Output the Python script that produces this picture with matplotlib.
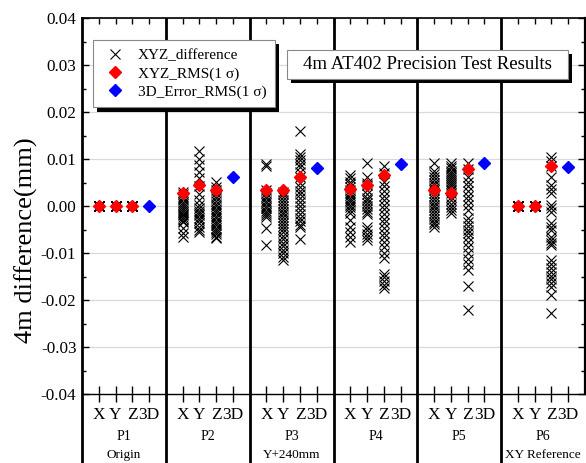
import matplotlib
matplotlib.use('Agg')
import matplotlib.pyplot as plt
import matplotlib.patheffects as pe
from matplotlib.patches import Rectangle
from matplotlib.ticker import FixedLocator
import numpy as np

plt.rcParams['font.family'] = ['Liberation Serif', 'DejaVu Serif']

# ---------------- data ----------------
points = ['P1', 'P2', 'P3', 'P4', 'P5', 'P6']
point_notes = ['Origin', '', 'Y+240mm', '', '', 'XY Reference']
components = ['X', 'Y', 'Z', '3D']

p1_x = [0.0, 0.0, 0.0, 0.0, 0.0, 0.0, 0.0, 0.0, 0.0, 0.0]
p1_y = [0.0, 0.0, 0.0, 0.0, 0.0, 0.0, 0.0, 0.0, 0.0, 0.0]
p1_z = [0.0, 0.0, 0.0, 0.0, 0.0, 0.0, 0.0, 0.0, 0.0, 0.0]

p2_x = [0.0030, 0.0025, 0.0019, 0.0014, 0.0009, 0.0005, 0.0, -0.0004, -0.0009, -0.0012,
        -0.0016, -0.0020, -0.0023, -0.0027, -0.0031, -0.0034, -0.0047, -0.0058, -0.0067]
p2_y = [0.0116, 0.0101, 0.0087, 0.0073, 0.0059, 0.0043, 0.0026, 0.0013, 0.0002, -0.0004,
        -0.0010, -0.0015, -0.0020, -0.0025, -0.0030, -0.0036, -0.0044, -0.0050, -0.0055]
p2_z = [0.0052, 0.0041, 0.0033, 0.0027, 0.0022, 0.0016, 0.0011, 0.0005, 0.0, -0.0006,
        -0.0011, -0.0015, -0.0021, -0.0025, -0.0031, -0.0036, -0.0040, -0.0046, -0.0051,
        -0.0055, -0.0060, -0.0065, -0.0069]

p3_x = [0.0089, 0.0085, 0.0035, 0.0027, 0.0022, 0.0016, 0.0011, 0.0006, 0.0001, -0.0004,
        -0.0010, -0.0015, -0.0019, -0.0023, -0.0047, -0.0083]
p3_y = [0.0030, 0.0025, 0.0019, 0.0012, 0.0006, 0.0, -0.0006, -0.0013, -0.0018, -0.0024,
        -0.0030, -0.0037, -0.0042, -0.0048, -0.0055, -0.0063, -0.0070, -0.0078, -0.0086,
        -0.0094, -0.0101, -0.0108, -0.0115]
p3_z = [0.0160, 0.0110, 0.0104, 0.0098, 0.0090, 0.0082, 0.0072, 0.0062, 0.0049, 0.0040,
        0.0032, 0.0025, 0.0016, 0.0008, 0.0001, -0.0008, -0.0016, -0.0025, -0.0032,
        -0.0040, -0.0044, -0.0071]

p4_x = [0.0066, 0.0060, 0.0052, 0.0046, 0.0040, 0.0034, 0.0028, 0.0023, 0.0018, 0.0012,
        0.0008, 0.0003, -0.0002, -0.0008, -0.0015, -0.0030, -0.0044, -0.0055, -0.0065, -0.0076]
p4_y = [0.0092, 0.0062, 0.0050, 0.0044, 0.0035, 0.0025, 0.0018, 0.0012, 0.0006, 0.0,
        -0.0006, -0.0012, -0.0017, -0.0045, -0.0052, -0.0060, -0.0067, -0.0072]
p4_z = [0.0085, 0.0070, 0.0052, 0.0042, 0.0032, 0.0022, 0.0012, 0.0003, -0.0007, -0.0017,
        -0.0027, -0.0037, -0.0047, -0.0057, -0.0067, -0.0077, -0.0088, -0.0099, -0.0111,
        -0.0145, -0.0152, -0.0160, -0.0168, -0.0175]

p5_x = [0.0092, 0.0075, 0.0068, 0.0062, 0.0056, 0.0050, 0.0044, 0.0038, 0.0033, 0.0027,
        0.0021, 0.0015, 0.0009, 0.0003, -0.0003, -0.0009, -0.0015, -0.0021, -0.0027,
        -0.0033, -0.0038, -0.0044]
p5_y = [0.0092, 0.0086, 0.0080, 0.0075, 0.0070, 0.0066, 0.0062, 0.0058, 0.0054, 0.0050,
        0.0045, 0.0040, 0.0034, 0.0028, 0.0020, 0.0012, 0.0005, -0.0002, -0.0008, -0.0015]
p5_z = [0.0092, 0.0078, 0.0062, 0.0052, 0.0042, 0.0032, 0.0022, 0.0012, 0.0002, -0.0008,
        -0.0026, -0.0034, -0.0042, -0.0050, -0.0058, -0.0066, -0.0076, -0.0088, -0.0100,
        -0.0112, -0.0124, -0.0136, -0.0170, -0.0221]

p6_x = [0.0, 0.0, 0.0, 0.0, 0.0, 0.0, 0.0, 0.0, 0.0, 0.0]
p6_y = [0.0, 0.0, 0.0, 0.0, 0.0, 0.0, 0.0, 0.0, 0.0, 0.0]
p6_z = [0.0104, 0.0095, 0.0085, 0.0062, 0.0045, 0.0036, 0.0027, 0.0002, -0.0005, -0.0012,
        -0.0037, -0.0045, -0.0051, -0.0065, -0.0072, -0.0078, -0.0083, -0.0115, -0.0123,
        -0.0131, -0.0140, -0.0148, -0.0156, -0.0164, -0.0172, -0.0189, -0.0228]

rms_x = [0.0, 0.0027, 0.0035, 0.0036, 0.0034, 0.0]
rms_y = [0.0, 0.0044, 0.0035, 0.0045, 0.0027, 0.0]
rms_z = [0.0, 0.0034, 0.0062, 0.0066, 0.0078, 0.0085]
rms_3d = [0.0, 0.0061, 0.0081, 0.0089, 0.0091, 0.0084]

yticks = [-0.04, -0.03, -0.02, -0.01, 0.0, 0.01, 0.02, 0.03, 0.04]
ytick_labels = ['-0.04', '-0.03', '-0.02', '-0.01', '0.00', '0.01', '0.02', '0.03', '0.04']

title_text = '4m AT402 Precision Test Results'
ylabel_text = '4m difference(mm)'
legend_labels = ['XYZ_difference', 'XYZ_RMS(1 σ)', '3D_Error_RMS(1 σ)']

diffs = [(p1_x, p1_y, p1_z), (p2_x, p2_y, p2_z), (p3_x, p3_y, p3_z),
         (p4_x, p4_y, p4_z), (p5_x, p5_y, p5_z), (p6_x, p6_y, p6_z)]

# ---------------- figure ----------------
W, H = 586, 463
fig = plt.figure(figsize=(W / 100, H / 100), dpi=100)
L, R, T, B = 82, 585, 18, 463
ax = fig.add_axes([L / W, 1 - B / H, (R - L) / W, (B - T) / H])

gw = len(components) + 1  # slots per group

h_diff = None
for g, cols in enumerate(diffs):
    for i, vals in enumerate(cols):
        xpos = g * gw + i + 1
        ln, = ax.plot([xpos] * len(vals), vals, linestyle='none', marker='x',
                      color='black', ms=7.5, mew=0.8, zorder=3)
        h_diff = h_diff or ln

xs_rms = []
ys_rms = []
for g in range(len(points)):
    for i, arr in enumerate((rms_x, rms_y, rms_z)):
        xs_rms.append(g * gw + i + 1)
        ys_rms.append(arr[g])
h_rms, = ax.plot(xs_rms, ys_rms, linestyle='none', marker='D', color='#ff0000',
                 ms=6.5, mec='#ff0000', zorder=4)
xs_3d = [g * gw + 4 for g in range(len(points))]
h_3d, = ax.plot(xs_3d, rms_3d, linestyle='none', marker='D', color='#0000ff',
                ms=6.5, mec='#0000ff', zorder=4)

# axes limits (0.04 at top, image bottom below -0.04)
ymin = -0.04 - (B - 394) / 4700
ax.set_ylim(ymin, 0.04)
ax.set_xlim(0, len(points) * gw)

# y ticks
ax.yaxis.set_major_locator(FixedLocator(yticks))
ax.set_yticklabels(ytick_labels)
ax.yaxis.set_minor_locator(FixedLocator([v + 0.005 for v in yticks[:-1]]))
ax.tick_params(axis='y', which='major', direction='in', length=5, width=1,
               left=True, right=True, labelsize=12.3, pad=4)
ax.tick_params(axis='y', which='minor', direction='in', length=3, width=1,
               left=True, right=True)
ax.yaxis.grid(True, which='major', color='#d9d9d9', lw=0.9)
ax.set_axisbelow(True)

# x ticks
xpos_all = [g * gw + i + 1 for g in range(len(points)) for i in range(len(components))]
ax.set_xticks(xpos_all)
ax.set_xticklabels(components * len(points))
ax.xaxis.remove_overlapping_locs = False
ax.xaxis.set_minor_locator(FixedLocator(np.arange(1, len(points) * gw)))
ax.tick_params(axis='x', which='major', direction='inout', length=11, width=1,
               bottom=True, top=False, labelsize=12.5, pad=4)
ax.tick_params(axis='x', which='minor', direction='in', length=4, width=1,
               bottom=False, top=True)
ax.spines['bottom'].set_position(('data', -0.04))
ax.spines['bottom'].set_linewidth(1.0)
ax.spines['left'].set_linewidth(2.0)
ax.spines['top'].set_linewidth(1.2)
ax.spines['right'].set_linewidth(1.6)
ax.spines['right'].set_bounds(-0.04, 0.04)

# group separators
for g in range(1, len(points)):
    ax.axvline(g * gw, color='black', lw=2.0, zorder=5)

# group labels
for g, (p, note) in enumerate(zip(points, point_notes)):
    xc = g * gw + gw / 2
    ax.text(xc, (206 - 436) / 4700, p, ha='center', va='center', fontsize=10)
    if note:
        ax.text(xc, (206 - 455) / 4700, note, ha='center', va='center', fontsize=9.5)

ax.set_ylabel(ylabel_text, fontsize=19, labelpad=2)

# legend
shadow = [pe.SimplePatchShadow(offset=(3, -3), shadow_rgbFace='black', alpha=1.0), pe.Normal()]
leg = ax.legend([h_diff, h_rms, h_3d], legend_labels, loc='upper left',
                bbox_to_anchor=((93 - L) / (R - L), (B - 40) / (B - T)), borderaxespad=0,
                fontsize=11, frameon=True, fancybox=False, framealpha=1,
                edgecolor='#888888', handletextpad=0.6, labelspacing=0.3,
                borderpad=0.55, handlelength=1.8)
leg.get_frame().set_linewidth(0.8)
leg.get_frame().set_path_effects(shadow)
leg.set_zorder(10)

# title box
x0 = (287 - L) / (R - L); x1 = (568 - L) / (R - L)
y0 = (B - 79) / (B - T); y1 = (B - 50) / (B - T)
rect = Rectangle((x0, y0), x1 - x0, y1 - y0, transform=ax.transAxes, facecolor='white',
                 edgecolor='#888888', lw=0.8, zorder=9)
rect.set_path_effects(shadow)
ax.add_patch(rect)
ax.text((x0 + x1) / 2, (y0 + y1) / 2, title_text, transform=ax.transAxes,
        ha='center', va='center', fontsize=13.5, zorder=11)

fig.savefig('out.png', dpi=100)
